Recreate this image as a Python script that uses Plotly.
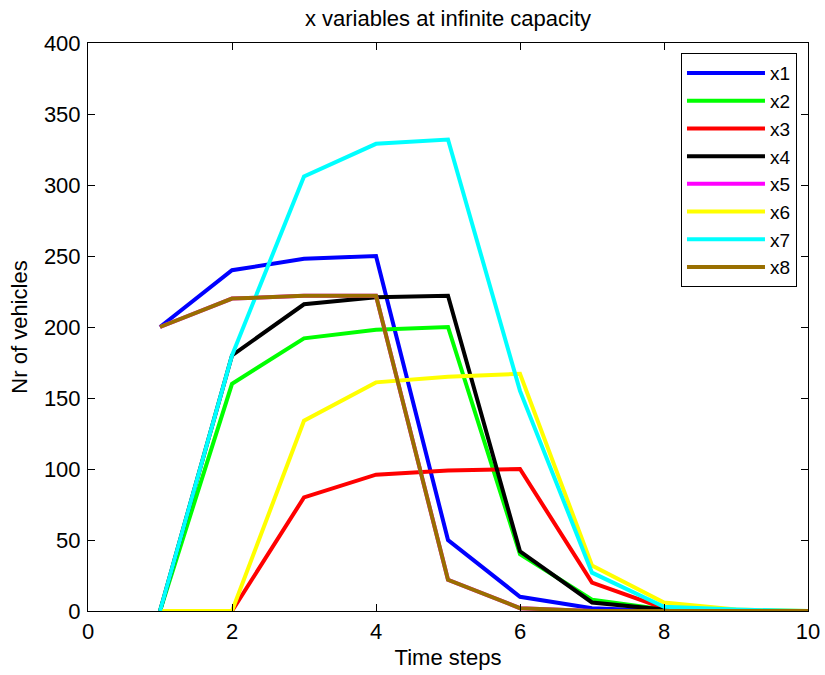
import plotly.graph_objects as go

# Time steps and vehicle counts for each x variable
t = [1, 2, 3, 4, 5, 6, 7, 8, 9, 10]
x1 = [200, 240, 248, 250, 50, 10, 2, 0, 0, 0]
x2 = [0, 160, 192, 198, 200, 40, 8, 1, 0, 0]
x3 = [0, 0, 80, 96, 99, 100, 20, 2, 0, 0]
x4 = [0, 180, 216, 221, 222, 42, 6, 1, 0, 0]
x5 = [200, 220, 222, 222, 22, 2, 0, 0, 0, 0]
x6 = [0, 0, 134, 161, 165, 167, 32, 6, 1, 0]
x7 = [0, 180, 306, 329, 332, 155, 27, 3, 1, 0]
x8 = [200, 220, 222, 222, 22, 2, 0, 0, 0, 0]

series = [
    ("x1", x1, "#0000ff"),
    ("x2", x2, "#00ff00"),
    ("x3", x3, "#ff0000"),
    ("x4", x4, "#000000"),
    ("x5", x5, "#ff00ff"),
    ("x6", x6, "#ffff00"),
    ("x7", x7, "#00ffff"),
    ("x8", x8, "#996f00"),
]

fig = go.Figure()
for name, vals, color in series:
    fig.add_trace(go.Scatter(x=t, y=vals, name=name, mode="lines",
                             line=dict(color=color, width=4)))

axis_common = dict(
    showline=True, linecolor="black", linewidth=1, mirror="ticks",
    ticks="inside", ticklen=7, tickcolor="black", showgrid=False,
    zeroline=False, tickfont=dict(size=22, color="black"),
    automargin=False,
)

fig.update_layout(
    width=825, height=675,
    margin=dict(l=88, r=17, t=43, b=64),
    paper_bgcolor="white", plot_bgcolor="white",
    font=dict(family="Liberation Sans, Arial, sans-serif", color="black"),
    title=dict(text="x variables at infinite capacity", x=0.543, xanchor="center",
               y=0.973, yanchor="middle", font=dict(size=22)),
    xaxis=dict(range=[0, 10], dtick=2, ticklabelstandoff=1,
               title=dict(text="Time steps", font=dict(size=22), standoff=6),
               **axis_common),
    yaxis=dict(range=[0, 400], dtick=50, ticklabelstandoff=2,
               title=dict(text="Nr of vehicles", font=dict(size=22), standoff=10),
               **axis_common),
    legend=dict(x=0.8236, y=0.982, xanchor="left", yanchor="top",
                bordercolor="black", borderwidth=1, bgcolor="white",
                font=dict(size=19), tracegroupgap=0, itemwidth=78),
    showlegend=True,
)

fig.write_html("out.html")
